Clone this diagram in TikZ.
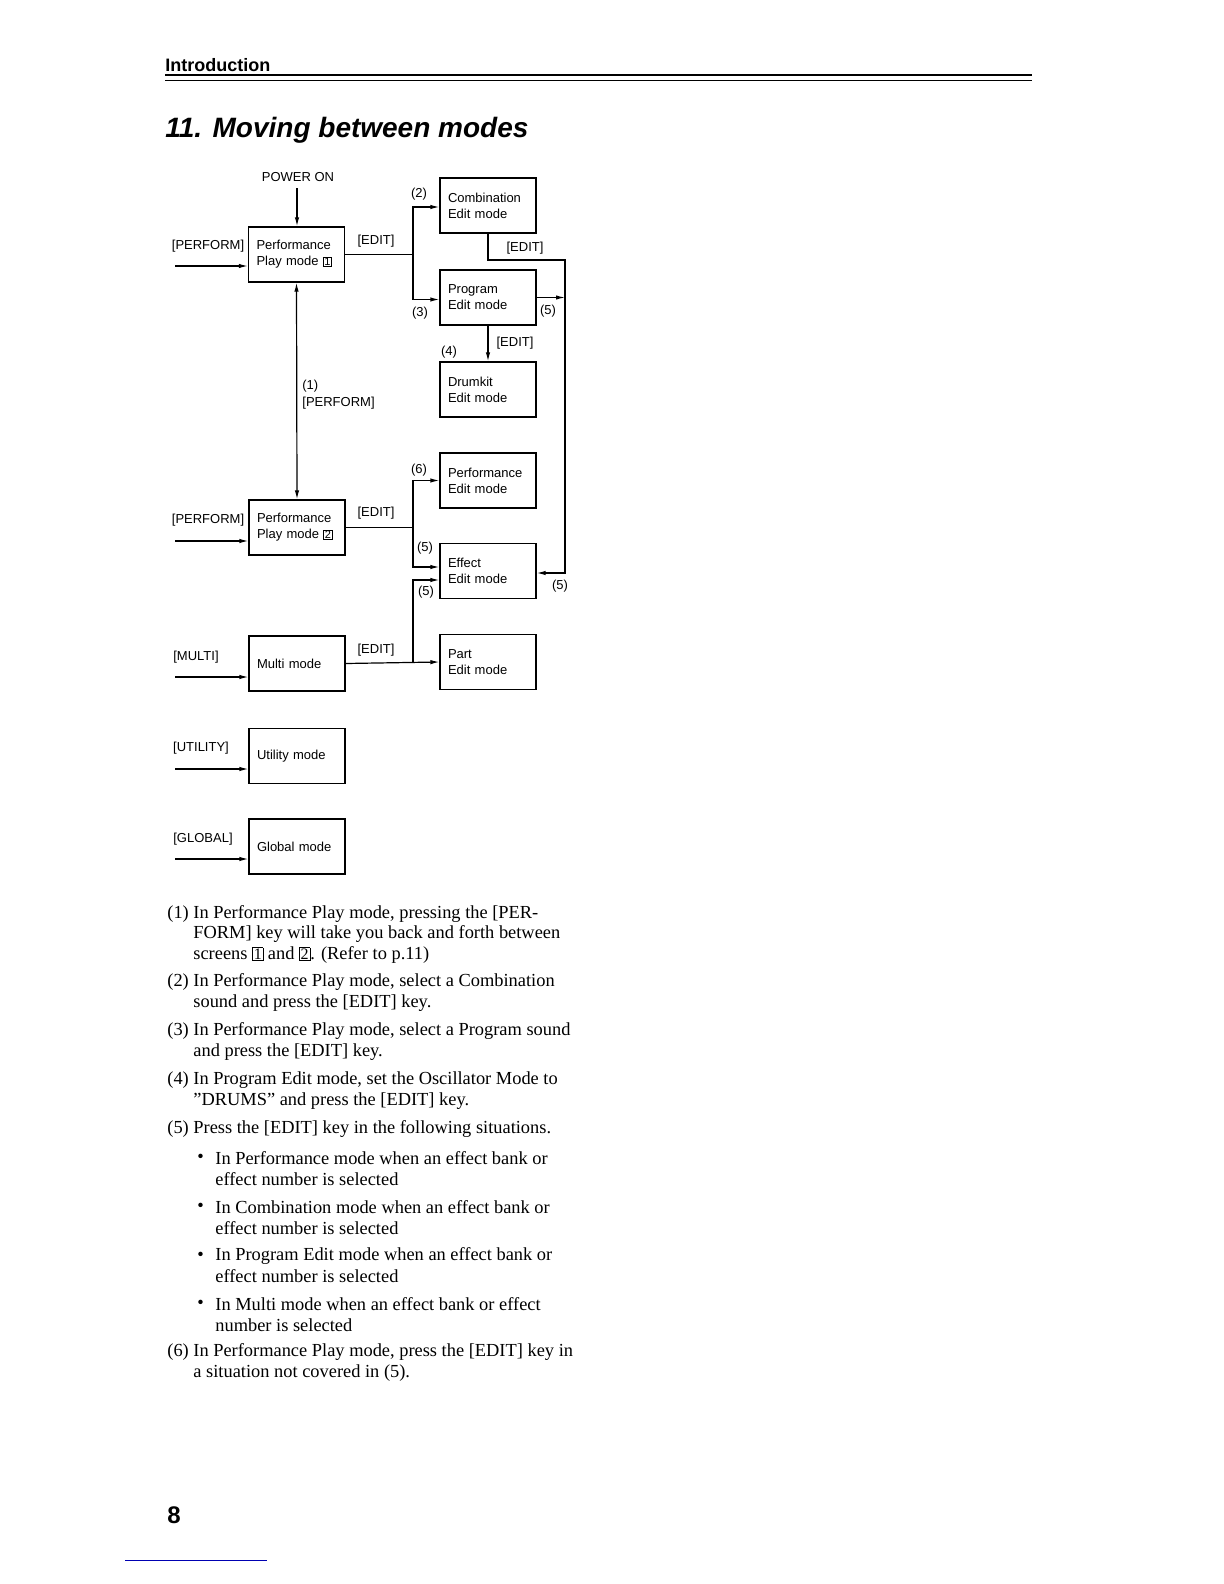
\documentclass[tikz,border=0pt]{standalone}
\usepackage{fontspec}
\setmainfont{Liberation Serif}
\setsansfont{Liberation Sans}
\usetikzlibrary{arrows.meta}
\newcommand\bxn[1]{{\setlength\fboxsep{0.4pt}\setlength\fboxrule{0.4pt}\fbox{\footnotesize#1}}}
\newcommand\bxs[1]{{\setlength\fboxsep{0.3pt}\setlength\fboxrule{0.4pt}\fbox{\fontsize{5.5}{6}\selectfont#1}}}
\tikzset{
  box/.style={draw,line width=0.6pt,minimum width=48pt,minimum height=27.5pt,text width=40pt,inner xsep=4pt,align=left,font=\sffamily\fontsize{6.5}{8}\selectfont},
  lab/.style={font=\sffamily\fontsize{6.5}{8}\selectfont,inner sep=0pt},
  arr/.style={line width=0.6pt,-{Latex[length=4.5pt,width=2.2pt]}},
  arrb/.style={line width=0.6pt,{Latex[length=4.5pt,width=2.2pt]}-{Latex[length=4.5pt,width=2.2pt]}},
  ln/.style={line width=0.6pt},
  body/.style={anchor=west,inner sep=0pt,font=\fontsize{9.2}{11}\selectfont}
}
\begin{document}
\begin{tikzpicture}[x=0.5pt,y=-0.5pt]
\useasboundingbox (0,0) rectangle (1224,1584);
% header
\node[anchor=west,inner sep=0pt,font=\sffamily\bfseries\fontsize{9}{10}\selectfont] (hdr) at (165,65) {Introduction};
\draw[line width=0.8pt] (165,75) -- (1032,75);
\draw[line width=0.4pt] (165,80) -- (1032,80);
\node[anchor=west,inner sep=0pt,font=\sffamily\bfseries\itshape\fontsize{14}{16}\selectfont] (ttl) at (165,130) {11. Moving between modes};
% boxes
\node[box] (pp1) at (296.5,254.5) {Performance\\Play mode \bxs{1}};
\node[box] (comb) at (488,205.5) {Combination\\Edit mode};
\node[box] (prog) at (488,297.5) {Program\\Edit mode};
\node[box] (drum) at (488,389.5) {Drumkit\\Edit mode};
\node[box] (pedit) at (488,480.5) {Performance\\Edit mode};
\node[box] (pp2) at (297,527.5) {Performance\\Play mode \bxs{2}};
\node[box] (eff) at (488,571) {Effect\\Edit mode};
\node[box] (multi) at (297,663.5) {Multi mode};
\node[box] (part) at (488,662) {Part\\Edit mode};
\node[box] (util) at (297,756) {Utility mode};
\node[box] (glob) at (297,846.5) {Global mode};
% power on
\node[lab] (pwr) at (298,177) {POWER ON};
\coordinate (pwrs) at (297,188);
\draw[arr] (pwrs) -- (pwrs |- pp1.north);
% inputs
\node[lab] (l1) at (208,246) {[PERFORM]};
\coordinate (in1) at (175,266);
\draw[arr] (in1) -- (in1 -| pp1.west);
\node[lab] (l2) at (208,520) {[PERFORM]};
\coordinate (in2) at (175,541);
\draw[arr] (in2) -- (in2 -| pp2.west);
\node[lab] (l3) at (196,657) {[MULTI]};
\coordinate (in3) at (175,677);
\draw[arr] (in3) -- (in3 -| multi.west);
\node[lab] (l4) at (201,748) {[UTILITY]};
\coordinate (in4) at (175,769);
\draw[arr] (in4) -- (in4 -| util.west);
\node[lab] (l5) at (203,839) {[GLOBAL]};
\coordinate (in5) at (175,859);
\draw[arr] (in5) -- (in5 -| glob.west);
% PP1 edit
\coordinate (j1) at (413,254.5);
\draw[ln] (pp1.east) -- (j1);
\draw[arr] (j1) |- ([yshift=-0.75pt]comb.west);
\draw[arr] (j1) |- ([yshift=-1pt]prog.west);
\node[lab] (e1) at (376,241) {[EDIT]};
\node[lab] (n2) at (419,194) {(2)};
\node[lab] (n3) at (420,313) {(3)};
% comb -> effect
\coordinate (c5a) at (565,260);
\draw[arr] (comb.south) |- (c5a) |- ([yshift=-1pt]eff.east);
\node[lab] (e2) at (525,248) {[EDIT]};
\draw[arr] (prog.east) -- (prog.east -| c5a);
\node[lab] (n5a) at (548,311) {(5)};
\node[lab] (n5d) at (560,586) {(5)};
% prog -> drum
\draw[arr] (prog.south) -- (drum.north);
\node[lab] (e3) at (515,343) {[EDIT]};
\node[lab] (n4) at (449,352) {(4)};
% (1)
\draw[arrb] (pp1.south) -- (pp2.north);
\node[lab,anchor=west] (n1) at (302,386) {(1)};
\node[lab,anchor=west] (p1) at (302,403) {[PERFORM]};
% PP2 edit
\coordinate (j2) at (413,527.5);
\draw[ln] (pp2.east) -- (j2);
\draw[arr] (j2) |- (pedit.west);
\draw[arr] (j2) |- ([yshift=2pt]eff.west);
\node[lab] (e4) at (376,513) {[EDIT]};
\node[lab] (n6) at (419,470) {(6)};
\node[lab] (n5b) at (425,548) {(5)};
% multi edit
\coordinate (j3) at (413,662);
\draw[arr] (multi.east) -- (part.west);
\draw[arr] (j3) |- ([yshift=-4.5pt]eff.west);
\node[lab] (e5) at (376,650) {[EDIT]};
\node[lab] (n5c) at (426,592) {(5)};
% body text
\node[body] (t1) at (167,914) {(1)};
\node[body] (t1a) at (193,914) {In Performance Play mode, pressing the [PER-};
\node[body] (t1b) at (193,934) {FORM] key will take you back and forth between};
\node[body] (t1c) at (193,955) {screens \bxn{1} and \bxn{2}. (Refer to p.11)};
\node[body] (t2) at (167,982) {(2)};
\node[body] (t2a) at (193,982) {In Performance Play mode, select a Combination};
\node[body] (t2b) at (193,1003) {sound and press the [EDIT] key.};
\node[body] (t3) at (167,1031) {(3)};
\node[body] (t3a) at (193,1031) {In Performance Play mode, select a Program sound};
\node[body] (t3b) at (193,1052) {and press the [EDIT] key.};
\node[body] (t4) at (167,1080) {(4)};
\node[body] (t4a) at (193,1080) {In Program Edit mode, set the Oscillator Mode to};
\node[body] (t4b) at (193,1101) {"DRUMS" and press the [EDIT] key.};
\node[body] (t5) at (167,1129) {(5)};
\node[body] (t5a) at (193,1129) {Press the [EDIT] key in the following situations.};
\node[body] (b1) at (197,1158) {•};
\node[body] (b1a) at (215,1158) {In Performance mode when an effect bank or};
\node[body] (b1b) at (215,1179) {effect number is selected};
\node[body] (b2) at (197,1207) {•};
\node[body] (b2a) at (215,1207) {In Combination mode when an effect bank or};
\node[body] (b2b) at (215,1228) {effect number is selected};
\node[body] (b3) at (197,1256) {•};
\node[body] (b3a) at (215,1256) {In Program Edit mode when an effect bank or};
\node[body] (b3b) at (215,1276) {effect number is selected};
\node[body] (b4) at (197,1304) {•};
\node[body] (b4a) at (215,1304) {In Multi mode when an effect bank or effect};
\node[body] (b4b) at (215,1325) {number is selected};
\node[body] (t6) at (167,1352) {(6)};
\node[body] (t6a) at (193,1352) {In Performance Play mode, press the [EDIT] key in};
\node[body] (t6b) at (193,1373) {a situation not covered in (5).};
% page number
\node[anchor=west,inner sep=0pt,font=\sffamily\bfseries\fontsize{12}{14}\selectfont] (pg) at (167,1515) {8};
\draw[blue!70!black,line width=0.4pt] (125,1560) -- (267,1560);
\end{tikzpicture}
\end{document}
